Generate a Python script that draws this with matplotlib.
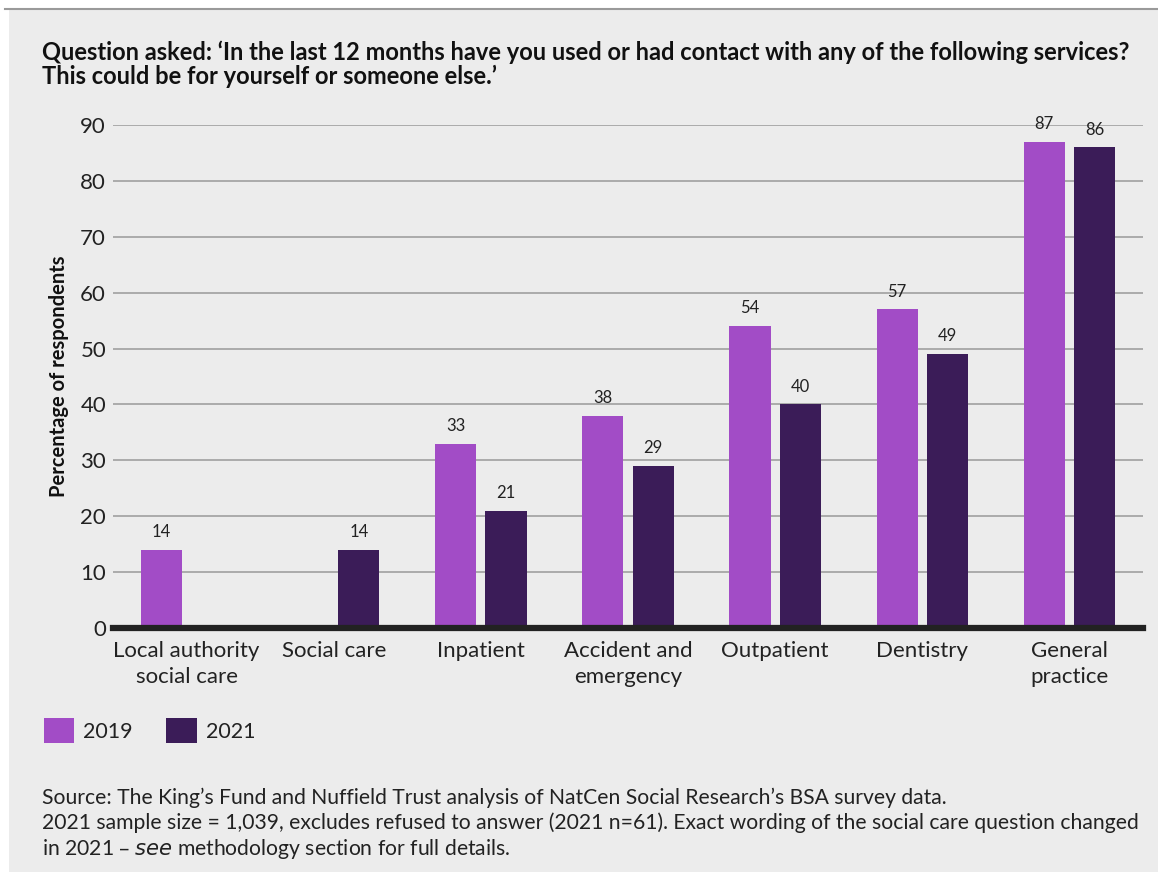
import numpy as np
import matplotlib.pyplot as plt
from matplotlib.patches import Rectangle
from matplotlib.lines import Line2D

services = ['Local authority\nsocial care', 'Social care', 'Inpatient', 'Accident and\nemergency',
            'Outpatient', 'Dentistry', 'General\npractice']
vals_2019 = [14, np.nan, 33, 38, 54, 57, 87]
vals_2021 = [np.nan, 14, 21, 29, 40, 49, 86]
yticks = [0, 10, 20, 30, 40, 50, 60, 70, 80, 90]

c2019 = '#a24cc6'
c2021 = '#3b1c58'
bg = '#ececec'

plt.rcParams['font.family'] = ['Lato', 'DejaVu Sans']

W, H = 1158, 872
fig = plt.figure(figsize=(W / 100, H / 100), dpi=100, facecolor='white')
fig.patches.append(Rectangle((9 / W, 0), 1, (H - 10) / H, transform=fig.transFigure,
                             facecolor=bg, edgecolor='none', zorder=-5))
fig.lines.append(Line2D([5 / W, 1], [(H - 9) / H] * 2, transform=fig.transFigure,
                        color='#9a9a9a', lw=1.5, zorder=-4))

ax = fig.add_axes([113 / W, (H - 628) / H, 1030 / W, (628 - 125) / H])
ax.set_facecolor(bg)

x = np.arange(len(services))
w = 0.28
off = 0.171
b1 = ax.bar(x - off, vals_2019, w, color=c2019, label='2019', zorder=3)
b2 = ax.bar(x + off, vals_2021, w, color=c2021, label='2021', zorder=3)

for bars, vals in ((b1, vals_2019), (b2, vals_2021)):
    for rect, v in zip(bars, vals):
        if np.isnan(v):
            continue
        ax.annotate(f'{v:g}', (rect.get_x() + rect.get_width() / 2, v),
                    xytext=(0, 7), textcoords='offset points',
                    ha='center', va='bottom', fontsize=12, color='#222222')

ax.set_xlim(-0.5, len(services) - 0.5)
ax.set_ylim(0, 90)
ax.set_yticks(yticks)
ax.set_yticklabels([str(t) for t in yticks], fontsize=16, color='#222222')
ax.set_xticks(x)
ax.set_xticklabels(services, fontsize=16, color='#222222', linespacing=1.38)
ax.tick_params(axis='both', length=0)
ax.tick_params(axis='y', pad=5)
ax.tick_params(axis='x', pad=9)
ax.yaxis.grid(True, color='#a6a6a6', lw=1.3, zorder=0)
for s in ax.spines.values():
    s.set_visible(False)
ax.axhline(0, color='#222222', lw=4.5, zorder=4, clip_on=False)
ax.set_ylabel('Percentage of respondents', fontsize=14.5, fontweight='bold',
              color='#111111', labelpad=8)

fig.text(42 / W, (H - 41) / H,
         "Question asked: \u2018In the last 12 months have you used or had contact with any of the following services?\n"
         "This could be for yourself or someone else.\u2019",
         fontsize=17, fontweight='bold', va='top', ha='left', color='#111111', linespacing=1.0)

fig.legend(handles=[b1, b2], labels=['2019', '2021'], loc='upper left',
           bbox_to_anchor=(35 / W, (H - 709) / H), ncol=2, frameon=False,
           fontsize=15.5, handlelength=1.4, handleheight=1.45, handletextpad=0.45,
           columnspacing=1.55, borderaxespad=0, labelcolor='#222222')

fig.text(42 / W, (H - 788) / H,
         "Source: The King\u2019s Fund and Nuffield Trust analysis of NatCen Social Research\u2019s BSA survey data.\n"
         "2021 sample size = 1,039, excludes refused to answer (2021 n=61). Exact wording of the social care question changed\n"
         "in 2021 \u2013 $\\it{see}$ methodology section for full details.",
         fontsize=15.25, va='top', ha='left', color='#222222', linespacing=1.22)

fig.savefig('out.png', dpi=100, facecolor='white')
